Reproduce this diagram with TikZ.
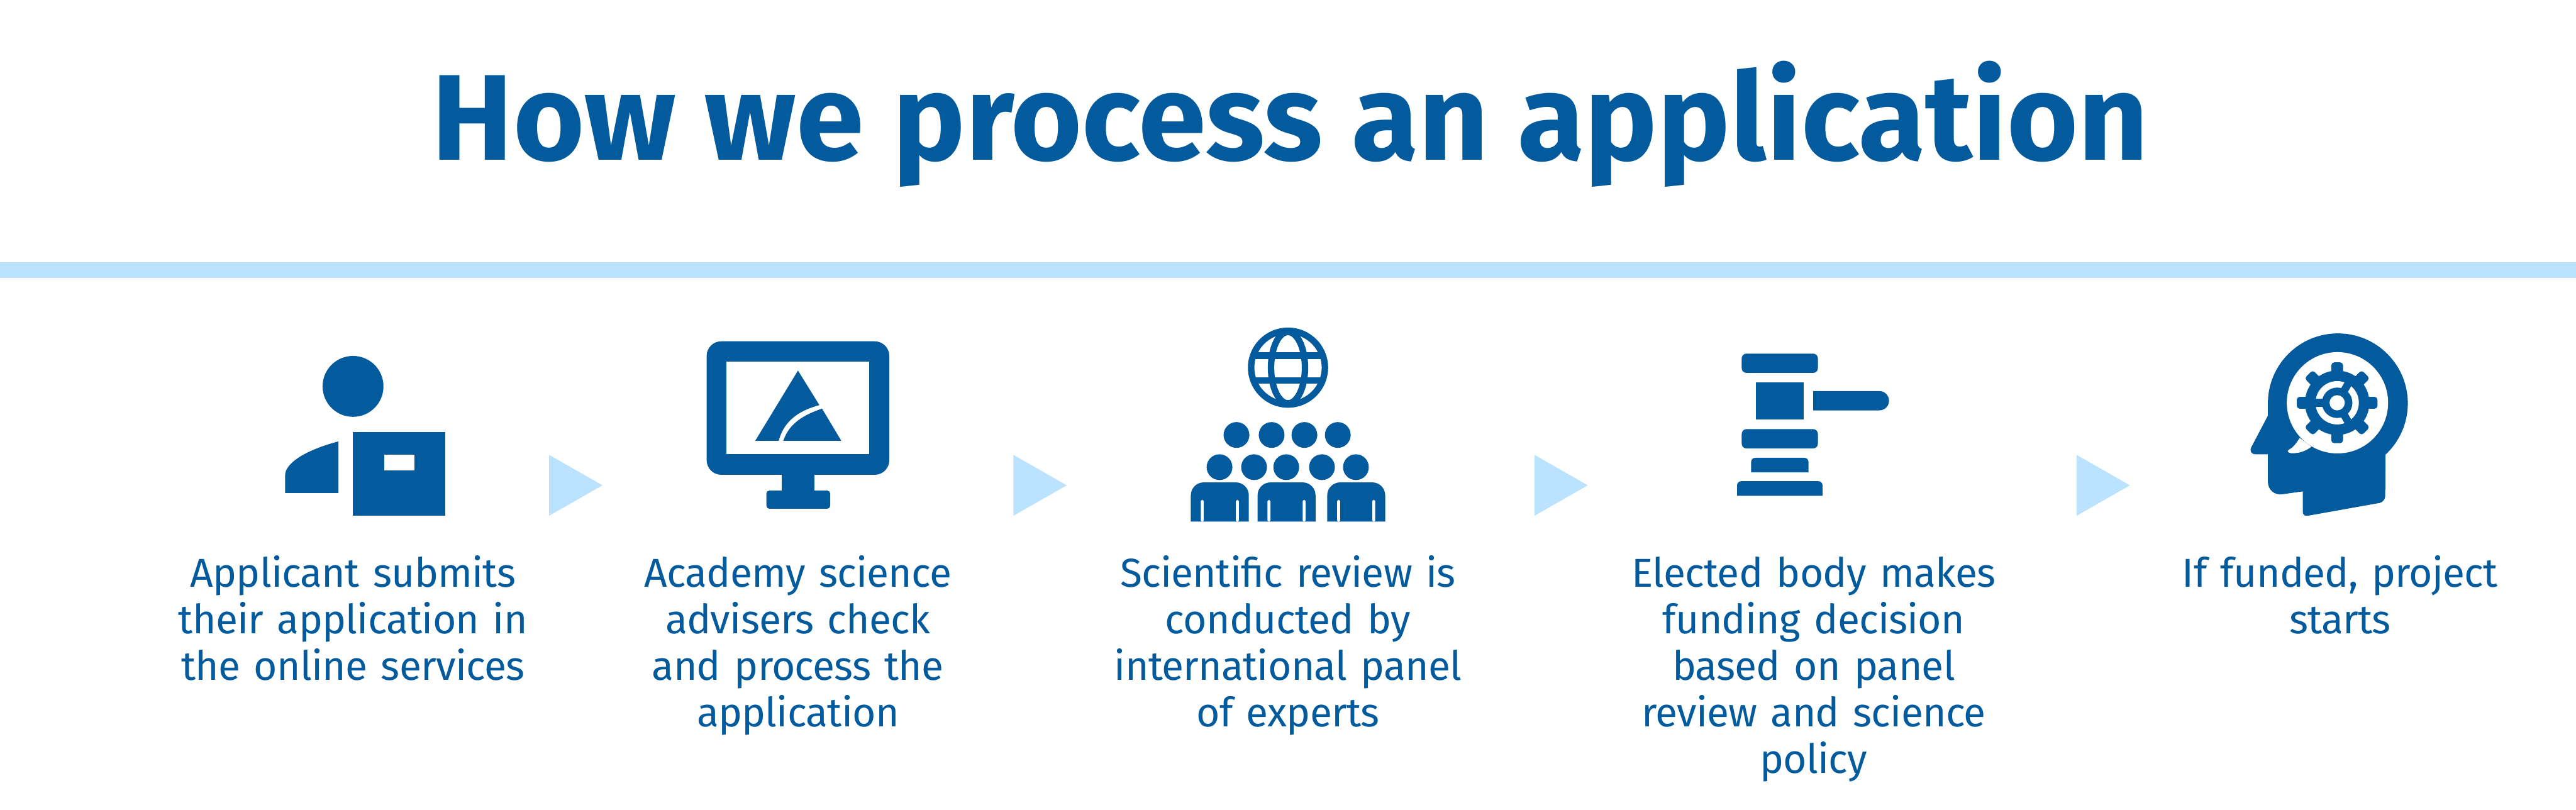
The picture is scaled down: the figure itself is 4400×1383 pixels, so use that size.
\documentclass[tikz,border=0pt]{standalone}
\usepackage{fontspec}
\setmainfont{Fira Sans}
\newfontfamily\capfont[LetterSpace=-1.2,WordSpace=0.7]{Fira Sans}
\usetikzlibrary{positioning}
\definecolor{accent}{HTML}{035B9E}
\definecolor{accent2}{HTML}{BBE2FF}
\begin{document}
\begin{tikzpicture}[
      x=0.01cm,y=-0.01cm,
      icon/.style={fill=accent,draw=none},
      hole/.style={fill=white,draw=none},
      pointer/.style={fill=accent2,draw=none},
      title/.style={inner sep=0pt,anchor=base,text=accent,font=\fontsize{59.3}{70}\selectfont\bfseries},
      caption/.style={inner sep=0pt,anchor=base,text width=8cm,align=center,text=accent,font=\capfont\fontsize{19.6}{22.57}\selectfont}]
    \useasboundingbox (0,0) rectangle (4400,1383);
    \node[title] (head) at (2204,273) {How we process an application};
    \fill[pointer] (0,448) rectangle (4400,475);

    \fill[icon] (603,660) circle [radius=52];
    \fill[icon] (603,738) rectangle (760,881);
    \fill[hole] (656,777) rectangle (708,803);
    \fill[icon] (578,754) .. controls (525,768) and (487,790) .. (487,812) -- (487,842) -- (578,842) -- cycle;

    \fill[icon,rounded corners=0.25cm] (1207,583) rectangle (1519,811);
    \fill[hole] (1241,618) rectangle (1485,776);
    \fill[icon] (1335,805) rectangle (1391,845);
    \fill[icon,rounded corners=0.05cm] (1309,838) rectangle (1418,869);
    \fill[icon] (1363,633) -- (1290,753) -- (1330,753) .. controls (1340,715) and (1370,700) .. (1399.5,692) -- cycle;
    \fill[icon] (1404,698) -- (1437,753) -- (1338,753) .. controls (1348,722) and (1375,708) .. (1404,698) -- cycle;

    \begin{scope}
      \clip (2200,628) circle [radius=60];
      \draw[accent,line width=0.11cm] (2200,628) ellipse [x radius=29,y radius=61];
      \fill[icon] (2130,602) rectangle (2270,613);
      \fill[icon] (2130,644) rectangle (2270,655);
    \end{scope}
    \draw[accent,line width=0.11cm] (2200,628) circle [radius=63];
    \foreach \hx/\hy in {2112/743,2172/743,2228/743,2285/743,2083/798,2142/798,2197/798,2258/798,2316/798}
      \fill[icon] (\hx,\hy) circle [radius=22];
    \foreach \bx in {2034,2148,2267} {
      \fill[icon] (\bx,891) [rounded corners=0.22cm] -- (\bx,824) -- (\bx+99,824) [sharp corners] -- (\bx+99,891) -- cycle;
      \fill[hole,rounded corners=0.02cm] (\bx+17,891) -- (\bx+17,854) -- (\bx+22,854) -- (\bx+22,891) -- cycle;
      \fill[hole,rounded corners=0.02cm] (\bx+77,891) -- (\bx+77,854) -- (\bx+82,854) -- (\bx+82,891) -- cycle;
    }

    \fill[icon,rounded corners=0.08cm] (2975,604) rectangle (3105,637);
    \fill[icon] (2999,653) rectangle (3081,717);
    \fill[icon] (3097,668) -- (3210,668) arc [start angle=-90,end angle=90,radius=16.5] -- (3097,701) -- cycle;
    \fill[icon,rounded corners=0.08cm] (2975,733) rectangle (3105,766);
    \fill[icon] (2991,807) [rounded corners=0.07cm] -- (2991,782) -- (3089,782) [sharp corners] -- (3089,807) -- cycle;
    \fill[icon] (2967,847) [rounded corners=0.07cm] -- (2967,822) -- (3113,822) [sharp corners] -- (3113,847) -- cycle;

    \fill[icon] (3873.7,710) -- (3873.7,689) arc [start angle=180,end angle=407,radius=119.5]
      [rounded corners=0.1cm] -- (4074,857.4) [rounded corners=0.08cm] -- (3933.3,882.5) [sharp corners] -- (3933.3,839.3)
      [rounded corners=0.25cm] -- (3873.7,847.8) [sharp corners] -- (3873.7,776)
      [rounded corners=0.14cm] -- (3839,776) [sharp corners] -- cycle;
    \fill[hole] (3992.5,688) circle [radius=86.5];
    \fill[hole] (3928,748) .. controls (3922,758) and (3916,765) .. (3910,768) .. controls (3906,770) and (3907,773) .. (3913,774) .. controls (3925,775) and (3938,771) .. (3948,763) -- cycle;
    \fill[icon] (3992,688) circle [radius=55];
    \foreach \toothangle in {0,45,...,315}
      \fill[icon,rotate around={\toothangle:(3992,688)},rounded corners=0.05cm] (3992,678) rectangle (4061,698);
    \fill[hole] (3992,688) circle [radius=37];
    \fill[icon] (3992,688) circle [radius=26];
    \foreach \spokeangle in {180,60,-60}
      \draw[accent,line width=0.13cm] (3992,688) -- ++(\spokeangle:40);
    \fill[hole] (3992,688) circle [radius=13];

    \foreach \ax in {938,1731,2621,3547}
      \fill[pointer] (\ax,777) -- (\ax+91,829) -- (\ax,881) -- cycle;

    \node[caption] (submit) at (603,1003) {Applicant submits\\their application in\\the online services};
    \node[caption] (check) at (1363,1003) {Academy science\\advisers check\\and process the\\application};
    \node[caption] (review) at (2200,1003) {Scientific review is\\conducted by\\international panel\\of experts};
    \node[caption] (decide) at (3098,1003) {Elected body makes\\funding decision\\based on panel\\review and science\\policy};
    \node[caption] (start) at (3997,1003) {If funded, project\\starts};
  \end{tikzpicture}
\end{document}
